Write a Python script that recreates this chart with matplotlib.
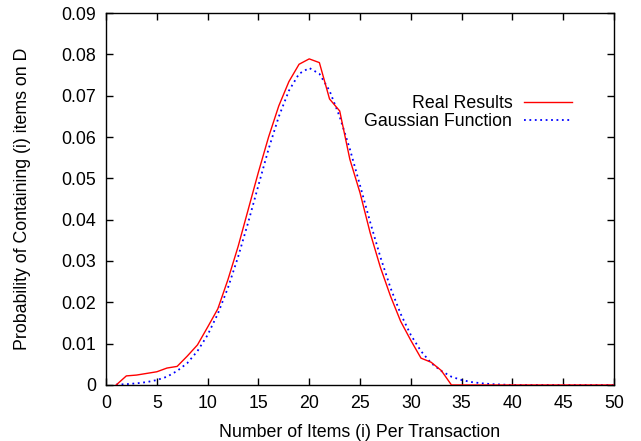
import numpy as np
import matplotlib
matplotlib.use('Agg')
import matplotlib.pyplot as plt

plt.rcParams['font.family'] = ['Liberation Sans', 'DejaVu Sans']

# Number of items per transaction
items = list(range(1, 51))

real_results = [0.0, 0.0022, 0.0024, 0.0028, 0.0032, 0.0041, 0.0045, 0.0070, 0.0097, 0.0140,
                0.0184, 0.0255, 0.0335, 0.0425, 0.0515, 0.0600, 0.0675, 0.0734, 0.0776, 0.0789,
                0.0780, 0.0692, 0.0663, 0.0546, 0.0465, 0.0368, 0.0285, 0.0215, 0.0154, 0.0108,
                0.0065, 0.0055, 0.0035, 0.0, 0.0, 0.0, 0.0, 0.0, 0.0, 0.0,
                0.0, 0.0, 0.0, 0.0, 0.0, 0.0, 0.0, 0.0, 0.0, 0.0]

# Fitted gaussian curve
gaussian = [0.0001, 0.0002, 0.0004, 0.0007, 0.0012, 0.0020, 0.0034, 0.0053, 0.0082, 0.0121,
            0.0172, 0.0235, 0.0310, 0.0394, 0.0483, 0.0571, 0.0649, 0.0712, 0.0753, 0.0767,
            0.0753, 0.0712, 0.0649, 0.0571, 0.0483, 0.0394, 0.0310, 0.0235, 0.0172, 0.0121,
            0.0082, 0.0053, 0.0034, 0.0020, 0.0012, 0.0007, 0.0004, 0.0002, 0.0001, 0.0,
            0.0, 0.0, 0.0, 0.0, 0.0, 0.0, 0.0, 0.0, 0.0, 0.0]

fs = 12.8

fig = plt.figure(figsize=(6.41, 4.41), dpi=100)
ax = fig.add_axes([0.1654, 0.127, 0.7925, 0.8435])

ax.plot(items, gaussian, color='#0000ff', linestyle=(0, (1, 2.0)), linewidth=1.3,
        label='Gaussian Function', zorder=2)
ax.plot(items, real_results, color='#ff0000', linewidth=1.0, label='Real Results', zorder=3)

ax.set_xlim(0, 50)
ax.set_ylim(0, 0.09)
ax.set_xticks(np.arange(0, 51, 5))
ax.set_yticks(np.arange(0, 0.0901, 0.01))
ax.set_yticklabels(['0', '0.01', '0.02', '0.03', '0.04', '0.05', '0.06', '0.07', '0.08', '0.09'])

ax.tick_params(direction='in', top=True, right=True, length=5, width=1, labelsize=fs, pad=7)
for s in ax.spines.values():
    s.set_linewidth(1.0)

ax.set_xlabel('Number of Items (i) Per Transaction', fontsize=fs, labelpad=9)
ax.set_ylabel('Probability of Containing (i) items on D', fontsize=fs, labelpad=22)

handles, labels = ax.get_legend_handles_labels()
ax.legend(handles[::-1], labels[::-1], loc='upper right', bbox_to_anchor=(0.917, 0.78),
          frameon=False, markerfirst=False, fontsize=fs, handlelength=2.7,
          labelspacing=0.05, handletextpad=0.65, borderpad=0, borderaxespad=0)

fig.savefig('out.png', dpi=100)
